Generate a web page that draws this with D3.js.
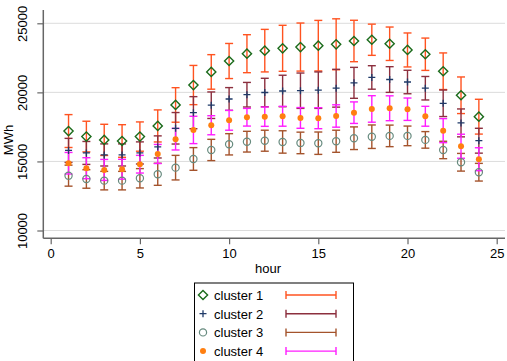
<!DOCTYPE html>
<html>
<head>
<meta charset="utf-8">
<script src="https://cdn.jsdelivr.net/npm/d3@7"></script>
<style>
  body { margin: 0; background: #fff; }
  text { font-family: "Liberation Sans", Arial, sans-serif; }
</style>
</head>
<body>
<div id="container"></div>
<script>
const w = 507;
const h = 361;

const hours = d3.range(1, 25);
const clusters = ['cluster 1', 'cluster 2', 'cluster 3', 'cluster 4'];
const xTicks = [0, 5, 10, 15, 20, 25];
const yTicks = [10000, 15000, 20000, 25000];

// hourly means and half-width of the confidence band
const mean1 = [17200, 16800, 16560, 16480, 16800, 17570, 19090, 20530, 21480, 22270, 22800, 23020,
  23190, 23280, 23380, 23480, 23720, 23810, 23520, 23070, 22760, 21530, 19790, 18240];
const err1 = [1190, 1110, 1130, 1180, 1060, 1160, 1250, 1420, 1250, 1270, 1375, 1540,
  1665, 1740, 1830, 1845, 1500, 1130, 1210, 1230, 1170, 1325, 1325, 1260];
const mean2 = [15800, 15615, 15470, 15470, 15615, 16050, 17400, 18530, 19070, 19520, 19830, 19990,
  20100, 20120, 20160, 20300, 20690, 21080, 20930, 20750, 20300, 19210, 17790, 16500];
const err2 = [870, 830, 800, 800, 800, 800, 1140, 1160, 960, 825, 890, 1030,
  1140, 1280, 1320, 1370, 1120, 850, 930, 850, 850, 960, 1010, 900];
const mean3 = [13970, 13730, 13610, 13610, 13780, 14070, 14550, 15180, 15830, 16240, 16430, 16500,
  16410, 16340, 16320, 16460, 16680, 16790, 16850, 16850, 16560, 15830, 14940, 14220];
const err3 = [760, 670, 670, 670, 700, 800, 890, 820, 770, 770, 750, 760,
  810, 780, 810, 800, 820, 850, 780, 710, 600, 630, 640, 640];
const mean4 = [14870, 14510, 14385, 14435, 14800, 15540, 16610, 17280, 17620, 17980, 18200, 18240,
  18270, 18150, 18130, 18290, 18530, 18800, 18850, 18780, 18270, 17230, 16100, 15160];
const err4 = [780, 760, 760, 720, 640, 690, 780, 990, 690, 720, 640, 700,
  720, 750, 760, 810, 780, 960, 900, 810, 720, 870, 870, 830];

const series = [
  { name: clusters[0], mean: mean1, err: err1, marker: 'diamond', mcol: '#1b6b1b', bcol: '#ff5320' },
  { name: clusters[1], mean: mean2, err: err2, marker: 'plus', mcol: '#1f3a68', bcol: '#8c2f3e' },
  { name: clusters[2], mean: mean3, err: err3, marker: 'circle', mcol: '#668a7e', bcol: '#a4532c' },
  { name: clusters[3], mean: mean4, err: err4, marker: 'dot', mcol: '#ff7f10', bcol: '#ff1cff' }
];

const svg = d3.select('#container')
  .append('svg')
    .attr('width', w)
    .attr('height', h);

const x = d3.scaleLinear().domain([0, 25]).range([50.7, 496.7]);
const y = d3.scaleLinear().domain([10000, 25000]).range([230.5, 23.3]);

const pLeft = 43.3, pRight = 505, pTop = 10, pBottom = 238.3;

// grid
svg.append('g')
  .selectAll('line')
  .data(yTicks)
  .enter()
  .append('line')
    .attr('x1', pLeft)
    .attr('x2', pRight)
    .attr('y1', d => y(d))
    .attr('y2', d => y(d))
    .attr('stroke', '#dcdcdc')
    .attr('stroke-width', 1);

// axes
const yAxis = svg.append('g')
  .attr('transform', 'translate(' + pLeft + ',0)')
  .call(d3.axisLeft(y).tickValues(yTicks).tickSize(6).tickFormat(d3.format('d')));
yAxis.select('.domain').attr('d', 'M0,' + pTop + 'V' + pBottom);
yAxis.selectAll('text')
  .attr('transform', 'rotate(-90)')
  .attr('x', 0)
  .attr('y', -16)
  .attr('dy', 0)
  .style('text-anchor', 'middle')
  .style('font-size', '13px')
  .attr('fill', '#000');

const xAxis = svg.append('g')
  .attr('transform', 'translate(0,' + pBottom + ')')
  .call(d3.axisBottom(x).tickValues(xTicks).tickSize(6));
xAxis.select('.domain').attr('d', 'M' + pLeft + ',0H' + pRight);
xAxis.selectAll('text')
  .attr('y', 10)
  .style('font-size', '13px')
  .attr('fill', '#000');

svg.selectAll('.domain').attr('stroke', '#666').attr('stroke-width', 1.5);
svg.selectAll('.tick line').attr('stroke', '#666').attr('stroke-width', 1.2);

svg.append('text')
  .attr('transform', 'rotate(-90)')
  .attr('x', -140)
  .attr('y', 13)
  .style('text-anchor', 'middle')
  .style('font-size', '13px')
  .text('MWh');

svg.append('text')
  .attr('x', 268)
  .attr('y', 273)
  .style('text-anchor', 'middle')
  .style('font-size', '13px')
  .text('hour');

function drawMarker(g, type, col, cx, cy) {
  if (type === 'diamond') {
    g.append('path')
      .attr('d', 'M' + cx + ',' + (cy - 4.6) + 'L' + (cx + 4.6) + ',' + cy + 'L' + cx + ',' + (cy + 4.6) + 'L' + (cx - 4.6) + ',' + cy + 'Z')
      .attr('fill', 'none').attr('stroke', col).attr('stroke-width', 1.4);
  } else if (type === 'plus') {
    g.append('path')
      .attr('d', 'M' + (cx - 3.5) + ',' + cy + 'H' + (cx + 3.5) + 'M' + cx + ',' + (cy - 3.5) + 'V' + (cy + 3.5))
      .attr('stroke', col).attr('stroke-width', 1.3);
  } else if (type === 'circle') {
    g.append('circle').attr('cx', cx).attr('cy', cy).attr('r', 3.6)
      .attr('fill', 'none').attr('stroke', col).attr('stroke-width', 1.2);
  } else {
    g.append('circle').attr('cx', cx).attr('cy', cy).attr('r', 3)
      .attr('fill', col);
  }
}

// error bars and markers
series.forEach(s => {
  const g = svg.append('g');
  const bars = g.selectAll('g')
    .data(hours)
    .enter()
    .append('g')
      .attr('stroke', s.bcol)
      .attr('stroke-width', 1.4);
  bars.append('line')
    .attr('x1', d => x(d)).attr('x2', d => x(d))
    .attr('y1', (d, i) => y(s.mean[i] + s.err[i]))
    .attr('y2', (d, i) => y(s.mean[i] - s.err[i]));
  bars.append('line')
    .attr('x1', d => x(d) - 4).attr('x2', d => x(d) + 4)
    .attr('y1', (d, i) => y(s.mean[i] + s.err[i]))
    .attr('y2', (d, i) => y(s.mean[i] + s.err[i]));
  bars.append('line')
    .attr('x1', d => x(d) - 4).attr('x2', d => x(d) + 4)
    .attr('y1', (d, i) => y(s.mean[i] - s.err[i]))
    .attr('y2', (d, i) => y(s.mean[i] - s.err[i]));
});

series.forEach(s => {
  const g = svg.append('g');
  hours.forEach((d, i) => drawMarker(g, s.marker, s.mcol, x(d), y(s.mean[i])));
});

// legend
const legend = svg.append('g').attr('id', 'legend');
legend.append('rect')
  .attr('x', 194.5)
  .attr('y', 283)
  .attr('width', 159)
  .attr('height', 90)
  .attr('fill', '#fff')
  .attr('stroke', '#000')
  .attr('stroke-width', 1);

series.forEach((s, i) => {
  const ly = 295 + i * 18.7;
  drawMarker(legend, s.marker, s.mcol, 203, ly);
  legend.append('text')
    .attr('x', 214)
    .attr('y', ly + 5)
    .style('font-size', '13px')
    .text(s.name);
  const k = legend.append('g').attr('stroke', s.bcol).attr('stroke-width', 1.4);
  k.append('line').attr('x1', 286).attr('x2', 336).attr('y1', ly).attr('y2', ly);
  k.append('line').attr('x1', 286).attr('x2', 286).attr('y1', ly - 4).attr('y2', ly + 4);
  k.append('line').attr('x1', 336).attr('x2', 336).attr('y1', ly - 4).attr('y2', ly + 4);
});
</script>
</body>
</html>
